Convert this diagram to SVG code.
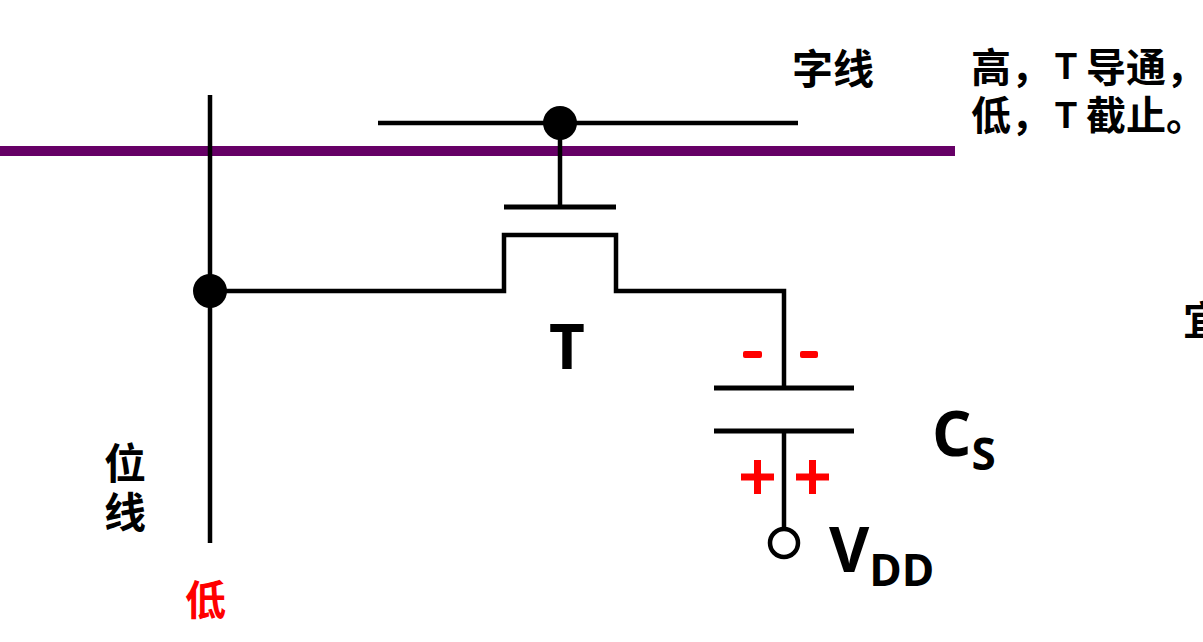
<svg xmlns="http://www.w3.org/2000/svg" width="1203" height="642" viewBox="0 0 1203 642">
<style>
.w{fill:none;stroke:#000;stroke-width:4.5}
.p{fill:none;stroke:#000;stroke-width:5}
.d{fill:#000}
.c{font-family:"Noto Sans CJK SC","Noto Sans",sans-serif;font-weight:700;fill:#000}
.b{font-family:"Open Sans","Noto Sans",sans-serif;font-weight:700;fill:#000}
.t{font-family:"Liberation Sans",Arial,sans-serif;font-weight:700;fill:#000}
.r{fill:#f00}
</style>
<rect width="1203" height="642" fill="#fff"/>
<g id="connectors">
<path d="M0 151H955" fill="none" stroke="#660066" stroke-width="10"/>
<path class="w" d="M378 123H798"/>
<path class="w" d="M560 123V207"/>
<path class="p" d="M504 207H616"/>
<path class="w" d="M210 291H504V235H616V291H784V388"/>
<path class="w" d="M210 95V543"/>
<path class="p" d="M714 388H854"/>
<path class="p" d="M714 431H854"/>
<path class="w" d="M784 431V529"/>
</g>
<g id="node-top"><circle class="d" cx="560" cy="123" r="17"/></g>
<g id="node-left"><circle class="d" cx="210" cy="291" r="17"/></g>
<g id="node-vdd"><circle cx="784" cy="543" r="14" fill="#fff" stroke="#000" stroke-width="4.5"/></g>
<g id="labels">
<text class="c" x="792" y="84" font-size="41">字线</text>
<text class="c" x="971" y="82" font-size="40">高，</text>
<text class="t" x="1055" y="79" font-size="36">T</text>
<text class="c" x="1086" y="82" font-size="40">导通，</text>
<text class="c" x="971" y="130" font-size="40">低，</text>
<text class="t" x="1055" y="128" font-size="36">T</text>
<text class="c" x="1086" y="130" font-size="40">截止。</text>
<text class="b" x="549" y="369" font-size="62">T</text>
<text class="b" x="932" y="456" font-size="62">C<tspan font-size="44" dy="14">S</tspan></text>
<text class="b" x="829" y="572" font-size="62">V<tspan font-size="44" dy="14">DD</tspan></text>
<text class="c" x="104" y="479" font-size="42">位</text>
<text class="c" x="104" y="528" font-size="42">线</text>
<text class="c" x="185" y="615" font-size="41" style="fill:#f00">低</text>
<text class="c" x="1183" y="335" font-size="40">宜</text>
</g>
<g id="charges">
<rect class="r" x="743" y="351" width="19" height="7" rx="2"/>
<rect class="r" x="800" y="351" width="18" height="7" rx="2"/>
<path class="r" d="M741 473.500H754V460H761V473.500H774V480.500H761V494H754V480.500H741Z"/>
<path class="r" d="M796 473.500H809V460H816V473.500H829V480.500H816V494H809V480.500H796Z"/>
</g>
</svg>
